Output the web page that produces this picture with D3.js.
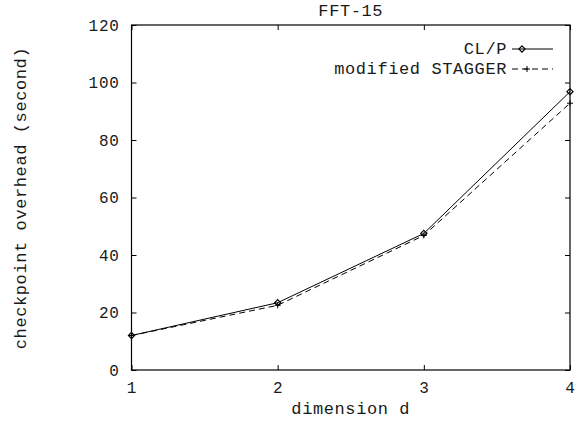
<!DOCTYPE html>
<html>
<head>
<meta charset="utf-8">
<script src="https://cdn.jsdelivr.net/npm/d3@7"></script>
<style>
  body { margin: 0; background: #fff; }
  svg text { font-family: "Liberation Mono", "DejaVu Sans Mono", monospace; font-size: 17px; letter-spacing: 0.6px; fill: #1a1a1a; }
</style>
</head>
<body>
<svg id="chart" width="580" height="421"></svg>
<script>
// data
const dims = [1, 2, 3, 4];
const clp = [12, 23.4, 47.5, 96.8];
const stagger = [12, 22.5, 46.8, 92.8];
const yTicks = [0, 20, 40, 60, 80, 100, 120];
const seriesNames = ['CL/P', 'modified STAGGER'];

const margin = {top: 25, right: 10, bottom: 51, left: 131.5};
const width = 580 - margin.left - margin.right;
const height = 421 - margin.top - margin.bottom;
const fontStack = '"Liberation Mono", "DejaVu Sans Mono", monospace';

const svg = d3.select('#chart');
const g = svg.append('g').attr('transform', `translate(${margin.left},${margin.top})`);

const x = d3.scaleLinear().domain([1, 4]).range([0, width]);
const y = d3.scaleLinear().domain([0, 120]).range([height, 0]);

// inward ticks, mirrored like gnuplot
const tk = 5;
g.append('g')
  .attr('transform', `translate(0,${height})`)
  .call(d3.axisBottom(x).tickValues(dims).tickFormat(d3.format('d')).tickSizeInner(-tk).tickSizeOuter(0).tickPadding(12))
  .call(a => a.select('.domain').remove());
g.append('g')
  .call(d3.axisTop(x).tickValues(dims).tickFormat('').tickSizeInner(-tk).tickSizeOuter(0))
  .call(a => a.select('.domain').remove());
g.append('g')
  .call(d3.axisLeft(y).tickValues(yTicks).tickSizeInner(-tk).tickSizeOuter(0).tickPadding(12))
  .call(a => a.select('.domain').remove());
g.append('g')
  .attr('transform', `translate(${width},0)`)
  .call(d3.axisRight(y).tickValues(yTicks).tickFormat('').tickSizeInner(-tk).tickSizeOuter(0))
  .call(a => a.select('.domain').remove());

g.selectAll('.tick line').attr('stroke', '#000');
g.selectAll('.tick text').style('font-family', fontStack).style('font-size', '16px')
  .style('letter-spacing', '0.7px').attr('fill', '#1a1a1a');

g.append('rect')
  .attr('width', width).attr('height', height)
  .attr('fill', 'none').attr('stroke', '#000').attr('stroke-width', 1.2);

const line = d3.line().x((d, i) => x(dims[i])).y(d => y(d));

g.append('path').datum(stagger)
  .attr('d', line).attr('fill', 'none').attr('stroke', '#000')
  .attr('stroke-width', 1).attr('stroke-dasharray', '6,4');
g.append('path').datum(clp)
  .attr('d', line).attr('fill', 'none').attr('stroke', '#000').attr('stroke-width', 1);

const diamond = d3.symbol().type(d3.symbolDiamond2).size(24);

function drawDiamond(sel, cx, cy) {
  sel.append('path').attr('d', diamond())
    .attr('transform', `translate(${cx},${cy})`)
    .attr('fill', 'none').attr('stroke', '#000').attr('stroke-width', 1.2);
}
function drawPlus(sel, cx, cy) {
  sel.append('path').attr('d', `M${cx - 3},${cy}H${cx + 3}M${cx},${cy - 3}V${cy + 3}`)
    .attr('stroke', '#000').attr('stroke-width', 1);
}

stagger.forEach((v, i) => drawPlus(g, x(dims[i]), y(v)));
clp.forEach((v, i) => drawDiamond(g, x(dims[i]), y(v)));

// legend
const lg = svg.append('g');
const rows = [49, 69];
seriesNames.forEach((name, i) => {
  lg.append('text').attr('x', 507).attr('y', rows[i]).attr('dy', '0.32em')
    .attr('text-anchor', 'end').text(name);
  lg.append('line').attr('x1', 512).attr('x2', 553).attr('y1', rows[i]).attr('y2', rows[i])
    .attr('stroke', '#000').attr('stroke-width', 1)
    .attr('stroke-dasharray', i === 1 ? '6,4' : null);
});
drawDiamond(lg, 522, rows[0]);
drawPlus(lg, 527, rows[1]);

// titles
svg.append('text').attr('x', margin.left + width / 2).attr('y', 11).attr('dy', '0.32em')
  .attr('text-anchor', 'middle').text('FFT-15');
svg.append('text').attr('x', margin.left + width / 2).attr('y', 409).attr('dy', '0.32em')
  .attr('text-anchor', 'middle').text('dimension d');
svg.append('text').attr('transform', 'translate(21,198) rotate(-90)')
  .attr('dy', '0.32em').attr('text-anchor', 'middle')
  .text('checkpoint overhead (second)');
</script>
</body>
</html>
